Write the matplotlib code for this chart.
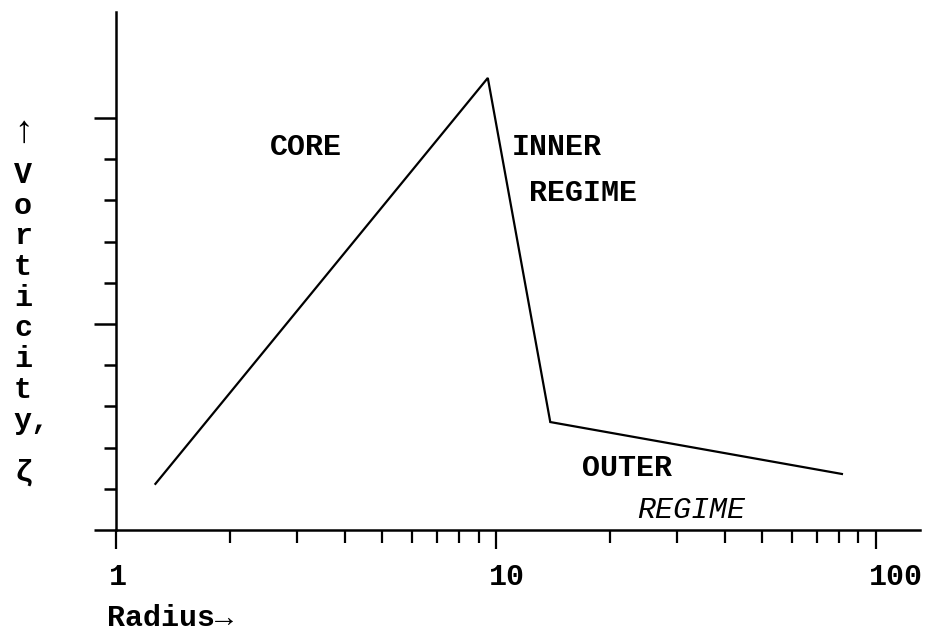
import matplotlib
matplotlib.use("Agg")
import matplotlib.pyplot as plt
import matplotlib.transforms as mtransforms
from matplotlib.ticker import FixedLocator, NullFormatter

plt.rcParams['font.family'] = ['Liberation Mono', 'DejaVu Sans Mono']
plt.rcParams['font.weight'] = 'bold'

# piecewise vorticity profile: core, inner regime, outer regime
radius = [1.27, 9.52, 13.9, 81.4]
vorticity = [1.12, 10.97, 2.62, 1.36]

xmajor = [1, 10, 100]
xminor = [2, 3, 4, 5, 6, 7, 8, 9, 20, 30, 40, 50, 60, 70, 80, 90]
ymajor = [0, 5, 10]
yminor = [1, 2, 3, 4, 6, 7, 8, 9]
ylabel_chars = ["V", "o", "r", "t", "i", "c", "i", "t", "y,"]

fig = plt.figure(figsize=(9.33, 6.33), dpi=100)
ax = fig.add_axes([0.1243, 0.1627, 0.8617, 0.8183])

ax.plot(radius, vorticity, color="black", lw=1.6, solid_joinstyle="miter")

ax.set_xscale("log")
ax.set_xlim(1, 130.6)
ax.set_ylim(0, 12.57)

for side in ("top", "right"):
    ax.spines[side].set_visible(False)
for side in ("left", "bottom"):
    ax.spines[side].set_linewidth(1.8)

ax.xaxis.set_major_locator(FixedLocator(xmajor))
ax.xaxis.set_minor_locator(FixedLocator(xminor))
ax.xaxis.set_minor_formatter(NullFormatter())
ax.set_xticklabels([str(v) for v in xmajor])
ax.yaxis.set_major_locator(FixedLocator(ymajor))
ax.yaxis.set_minor_locator(FixedLocator(yminor))
ax.set_yticklabels([])

ax.tick_params(axis="x", which="major", direction="out", length=14, width=1.6,
               pad=10, labelsize=21.6)
ax.tick_params(axis="x", which="minor", direction="out", length=9, width=1.6)
ax.tick_params(axis="y", which="major", direction="out", length=16, width=1.8)
ax.tick_params(axis="y", which="minor", direction="out", length=8.5, width=1.8)

# numbers start just left of their tick
shift = mtransforms.ScaledTranslation(-7 / 100, 0, fig.dpi_scale_trans)
for lab in ax.get_xticklabels():
    lab.set_horizontalalignment("left")
    lab.set_transform(lab.get_transform() + shift)

txt = dict(fontsize=21.6, va="center")
ax.text(3.16, 9.30, "CORE", ha="center", **txt)
ax.text(11.0, 9.30, "INNER", ha="left", **txt)
ax.text(12.2, 8.18, "REGIME", ha="left", **txt)
ax.text(16.8, 1.50, "OUTER", ha="left", **txt)
ax.text(23.5, 0.49, "REGIME", ha="left", style="italic", fontweight="normal", **txt)

# stacked vertical axis label
fig.text(0.0247, 1 - 132 / 633, "↑", ha="center", fontsize=27, va="center")
for i, ch in enumerate(ylabel_chars):
    fig.text(0.0247 if len(ch) == 1 else 0.034, 1 - (175 + i * 30.7) / 633, ch,
             ha="center", **txt)
fig.text(0.0247, 1 - 473 / 633, "ζ", ha="center", **txt)

fig.text(0.1147, 1 - 618 / 633, "Radius→", ha="left", **txt)

fig.savefig("out.png", dpi=100)
